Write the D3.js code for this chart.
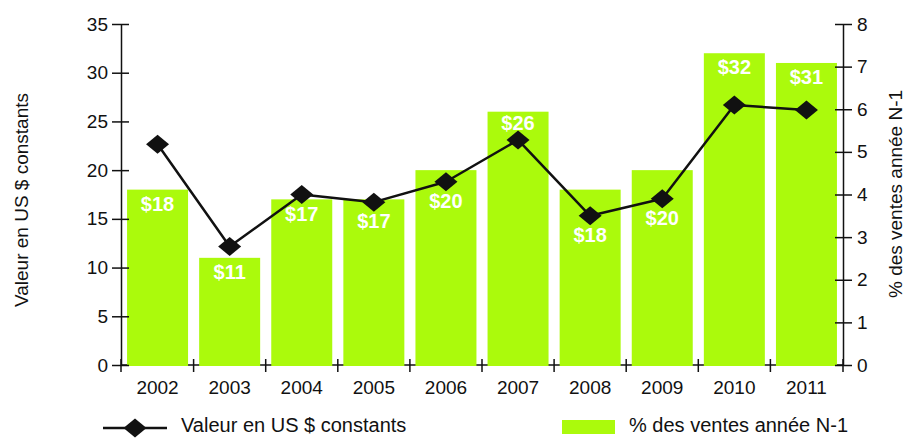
<!DOCTYPE html>
<html>
<head>
<meta charset="utf-8">
<script src="https://cdn.jsdelivr.net/npm/d3@7"></script>
<style>
  body { margin: 0; background: #fff; }
  svg { display: block; }
  text { font-family: "Liberation Sans", Arial, Helvetica, sans-serif; }
</style>
</head>
<body>
<svg id="chart" width="906" height="445"></svg>
<script>
// Categories and series
const years = ["2002", "2003", "2004", "2005", "2006", "2007", "2008", "2009", "2010", "2011"];
const barValues = [18, 11, 17, 17, 20, 26, 18, 20, 32, 31];          // left axis
const lineValues = [5.18, 2.78, 4.0, 3.82, 4.3, 5.28, 3.5, 3.9, 6.1, 5.98]; // right axis

// Tick labels and texts
const leftTicks = [0, 5, 10, 15, 20, 25, 30, 35];
const rightTicks = [0, 1, 2, 3, 4, 5, 6, 7, 8];
const leftTitle = "Valeur en US $ constants";
const rightTitle = "% des ventes année N-1";
const legendLineText = "Valeur en US $ constants";
const legendBarText = "% des ventes année N-1";

const plot = { left: 121, right: 843, top: 24, bottom: 365 };
const green = "#abfa0c";
const ink = "#111";
const font = '"Liberation Sans", Arial, Helvetica, sans-serif';

const svg = d3.select("#chart");

const x = d3.scaleBand().domain(years).range([plot.left, plot.right])
  .paddingInner(0.154).paddingOuter(0.084);
const yL = d3.scaleLinear().domain([0, 35]).range([plot.bottom, plot.top]);
const yR = d3.scaleLinear().domain([0, 8]).range([plot.bottom, plot.top]);
const cx = i => x(years[i]) + x.bandwidth() / 2;

// Baseline, mostly covered by the bars
svg.append("line")
  .attr("x1", plot.left).attr("x2", plot.right)
  .attr("y1", yL(0)).attr("y2", yL(0))
  .attr("stroke", ink).attr("stroke-width", 1.5);

// Bars
svg.append("g").selectAll("rect").data(barValues).join("rect")
  .attr("x", (d, i) => x(years[i]))
  .attr("width", x.bandwidth())
  .attr("y", d => yL(d))
  .attr("height", d => yL(0) - yL(d) + 1)
  .attr("fill", green);

// Category separator ticks on the baseline
const gap = x.step() * x.paddingInner();
const bounds = [plot.left, ...years.slice(1).map(d => x(d) - gap / 2), plot.right];
svg.append("g").selectAll("line").data(bounds).join("line")
  .attr("x1", d => d).attr("x2", d => d)
  .attr("y1", yL(0) - 6).attr("y2", yL(0) + 7)
  .attr("stroke", ink).attr("stroke-width", 1.5);

// Axes
function styleAxis(g) {
  g.attr("font-family", font).attr("font-size", 19).attr("color", ink);
  g.selectAll(".domain").attr("stroke-width", 1.5);
  g.selectAll(".tick line").attr("stroke-width", 1.5);
}

const axL = svg.append("g")
  .attr("transform", `translate(${plot.left},0)`)
  .call(d3.axisLeft(yL).tickValues(leftTicks).tickSize(9).tickSizeOuter(0).tickPadding(4));
axL.selectAll(".tick line").attr("x1", 8);
styleAxis(axL);

const axR = svg.append("g")
  .attr("transform", `translate(${plot.right},0)`)
  .call(d3.axisRight(yR).tickValues(rightTicks).tickSize(9).tickSizeOuter(0).tickPadding(5));
axR.selectAll(".tick line").attr("x1", -8);
styleAxis(axR);

const axB = svg.append("g")
  .attr("transform", `translate(0,${plot.bottom})`)
  .call(d3.axisBottom(x).tickSize(0).tickPadding(15.5));
axB.select(".domain").remove();
styleAxis(axB);

// Line with diamond markers
const pts = lineValues.map((v, i) => [cx(i), yR(v)]);
svg.append("path")
  .datum(lineValues)
  .attr("d", d3.line().x((d, i) => cx(i)).y(d => yR(d)))
  .attr("fill", "none").attr("stroke", ink).attr("stroke-width", 2.5)
  .attr("stroke-linejoin", "round");

const DW = 11.5, DH = 9.5;
const diamond = `M0,${-DH}L${DW},0L0,${DH}L${-DW},0Z`;
svg.append("g").selectAll("path").data(lineValues).join("path")
  .attr("transform", (d, i) => `translate(${cx(i)},${yR(d)})`)
  .attr("d", diamond)
  .attr("fill", ink);

// Value labels inside the bars, moved below the marker when the line gets in the way
function collides(box) {
  for (let k = 0; k < pts.length - 1; k++) {
    const [x0, y0] = pts[k], [x1, y1] = pts[k + 1];
    for (let t = 0; t <= 1.0001; t += 0.01) {
      const px = x0 + (x1 - x0) * t, py = y0 + (y1 - y0) * t;
      if (px >= box.x0 && px <= box.x1 && py >= box.y0 && py <= box.y1) return true;
    }
  }
  for (const [px, py] of pts) {
    if (px + DW > box.x0 && px - DW < box.x1 && py + DH > box.y0 && py - DH < box.y1) return true;
  }
  return false;
}

const labels = svg.append("g")
  .attr("font-family", font).attr("font-size", 20).attr("font-weight", "bold")
  .attr("fill", "#fff").attr("text-anchor", "middle");

barValues.forEach((v, i) => {
  const t = labels.append("text").attr("x", cx(i)).text("$" + v);
  const half = t.node().getComputedTextLength() / 2;
  const top = yL(v);
  const candidates = [top + 14, top + 11, pts[i][1] + 19];
  let cy = candidates[candidates.length - 1];
  for (const c of candidates.slice(0, 2)) {
    const box = { x0: cx(i) - half, x1: cx(i) + half, y0: c - 7, y1: c + 7 };
    if (!collides(box)) { cy = c; break; }
  }
  t.attr("y", cy + 7);
});

// Axis titles
svg.append("text")
  .attr("transform", `translate(28,200) rotate(-90)`)
  .attr("text-anchor", "middle")
  .attr("font-family", font).attr("font-size", 19).attr("fill", ink)
  .text(leftTitle);

svg.append("text")
  .attr("transform", `translate(902,194) rotate(-90)`)
  .attr("text-anchor", "middle")
  .attr("font-family", font).attr("font-size", 19).attr("fill", ink)
  .text(rightTitle);

// Legend
const lg = svg.append("g").attr("font-family", font).attr("font-size", 20).attr("fill", ink);
lg.append("line").attr("x1", 103).attr("x2", 167).attr("y1", 428).attr("y2", 428)
  .attr("stroke", ink).attr("stroke-width", 2.5);
lg.append("path").attr("transform", "translate(135,428)").attr("d", diamond).attr("fill", ink);
lg.append("text").attr("x", 181).attr("y", 432).text(legendLineText);
lg.append("rect").attr("x", 562).attr("y", 420).attr("width", 53).attr("height", 14).attr("fill", green);
lg.append("text").attr("x", 629).attr("y", 432).text(legendBarText);
</script>
</body>
</html>
